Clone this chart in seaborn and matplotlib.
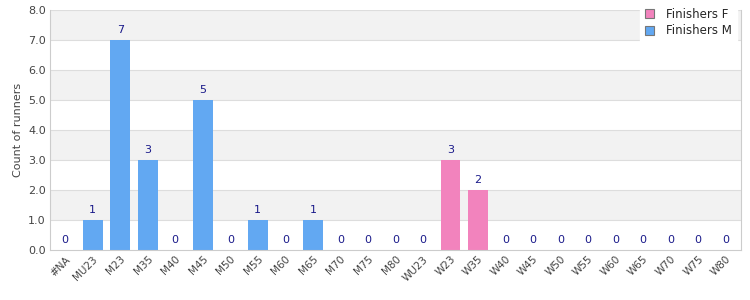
import matplotlib
matplotlib.use("Agg")
import matplotlib.pyplot as plt
from matplotlib.patches import Patch
import seaborn as sns
import pandas as pd

categories = ["#NA", "MU23", "M23", "M35", "M40", "M45", "M50", "M55", "M60", "M65",
              "M70", "M75", "M80", "WU23", "W23", "W35", "W40", "W45", "W50", "W55",
              "W60", "W65", "W70", "W75", "W80"]
finishers_m = [0, 1, 7, 3, 0, 5, 0, 1, 0, 1, 0, 0, 0, 0, 0, 0, 0, 0, 0, 0, 0, 0, 0, 0, 0]
finishers_f = [0, 0, 0, 0, 0, 0, 0, 0, 0, 0, 0, 0, 0, 0, 3, 2, 0, 0, 0, 0, 0, 0, 0, 0, 0]

col_m = "#62a8f2"
col_f = "#f283bd"

series = []
for c, m, f in zip(categories, finishers_m, finishers_f):
    if f > 0:
        series.append((c, f, "Finishers F"))
    else:
        series.append((c, m, "Finishers M"))
df = pd.DataFrame(series, columns=["cat", "count", "series"])

sns.set_theme(style="white")
plt.rcParams['font.family'] = ['DejaVu Sans']

fig = plt.figure(figsize=(7.5, 3.0), dpi=100)
ax = fig.add_axes([0.0667, 0.1667, 0.921, 0.80])

for i in range(8):
    if i % 2 == 1:
        ax.axhspan(i, i + 1, color="#f2f2f2", zorder=0, lw=0)
for i in range(1, 9):
    ax.axhline(i, color="#dddddd", lw=0.8, zorder=0.5)

sns.barplot(data=df, x="cat", y="count", hue="series", order=categories,
            hue_order=["Finishers F", "Finishers M"],
            palette={"Finishers F": col_f, "Finishers M": col_m},
            dodge=False, width=0.72, saturation=1, ax=ax, legend=False, zorder=2,
            linewidth=0, edgecolor="none")

for i, (c, v) in enumerate(zip(df["cat"], df["count"])):
    ax.annotate(str(int(v)), (i, v), xytext=(0, 3.5), textcoords="offset points",
                ha="center", va="bottom", fontsize=8, color="#1a1a8a")

ax.set_ylim(0, 8)
ax.set_xlim(-0.55, len(categories) - 0.45)
ax.set_yticks(range(0, 9))
ax.set_yticklabels([f"{v:.1f}" for v in range(0, 9)], fontsize=8, color="#444444")
ax.set_xticks(range(len(categories)))
ax.set_xticklabels(categories, rotation=45, ha="right", rotation_mode="anchor",
                   fontsize=7.5, color="#444444")
ax.tick_params(axis="both", length=0, pad=3)
ax.set_xlabel("")
ax.set_ylabel("Count of runners", fontsize=8, color="#444444")
for s in ["left", "bottom", "right"]:
    ax.spines[s].set_color("#cccccc")
    ax.spines[s].set_linewidth(0.8)
ax.spines["top"].set_visible(False)

handles = [Patch(facecolor=col_f, edgecolor="#777777", lw=0.8),
           Patch(facecolor=col_m, edgecolor="#777777", lw=0.8)]
fig.legend(handles, ["Finishers F", "Finishers M"], loc="upper right",
           bbox_to_anchor=(0.99, 1.01), frameon=True, facecolor="white",
           edgecolor="white", framealpha=1, fontsize=8.5, handlelength=0.8,
           handleheight=0.8, borderpad=0.4, labelspacing=0.3, handletextpad=1.0,
           fancybox=False)

fig.savefig("out.png", dpi=100)
